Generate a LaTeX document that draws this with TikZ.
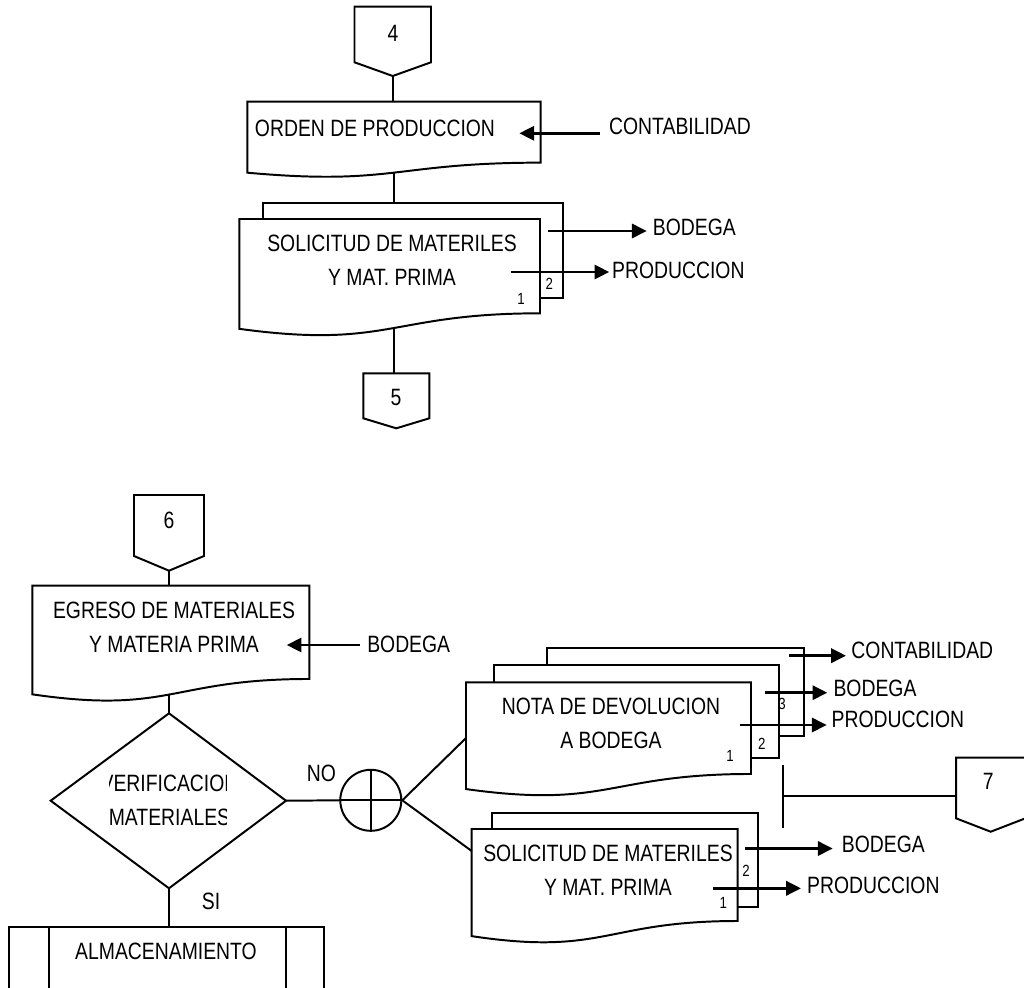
\documentclass[tikz,border=0pt]{standalone}
\usepackage{fontspec}
\setmainfont{Liberation Sans}[FakeStretch=0.82]
\usetikzlibrary{arrows.meta}

\newcommand\lblfont{\fontsize{16.8}{24.1}\selectfont}
\newcommand\numfont{\fontsize{11.5}{13}\selectfont}

% document symbol: name, left, top, right, height
\newcommand\docsheet[5]{%
  \draw[outline] (#2,#3) coordinate (#1-nw) -- (#4,#3) coordinate (#1-ne)
    -- (#4,{#3+0.802*#5}) coordinate (#1-se)
    .. controls ({(#2+#4)/2},{#3+0.802*#5}) and ({(#2+#4)/2},{#3+1.108*#5}) .. (#2,{#3+0.934*#5})
    coordinate (#1-sw) -- cycle;
  \coordinate (#1-b) at ({(#2+#4)/2},{#3+0.9333*#5});}

% visible part of a sheet lying behind another:
% name, left, top, right, bottom, right edge of the sheet in front, top of the sheet in front
\newcommand\backsheet[7]{%
  \draw[outline] (#2,#7) -- (#2,#3) coordinate (#1-nw) -- (#4,#3) coordinate (#1-ne)
    -- (#4,#5) coordinate (#1-se) -- (#6,#5);}

% off-page connector: name, left, top, right, shoulder, tip
\newcommand\offpage[6]{%
  \draw[outline] (#2,#3) coordinate (#1-nw) -- (#4,#3)
    -- (#4,#5) -- ({(#2+#4)/2},#6) coordinate (#1-tip) -- (#2,#5) -- cycle;
  \coordinate (#1-top) at ({(#2+#4)/2},#3);}

\tikzset{
  outline/.style={line width=1.4pt, line join=miter},
  flow/.style={line width=2.1pt, -{Triangle[length=10.5pt,width=10pt]}},
  txt/.style={font=\lblfont, inner sep=0pt, align=center},
  num/.style={font=\numfont, inner sep=0pt},
}

\begin{document}
\begin{tikzpicture}[x=0.025cm, y=-0.025cm]
\path[use as bounding box] (0,0) rectangle (1024,987);
\clip (0,0) rectangle (1024,987);

% ---------- upper sequence ----------
\offpage{op4}{354.5}{6.7}{431}{62.3}{76}
\node[txt] (n4) at (393,33.3) {4};

\docsheet{orden}{247.3}{101.7}{540.7}{76}
\node[txt] (t-orden) at (375,128) {ORDEN DE PRODUCCION};
\node[txt] (l-cont1) at (680,126.2) {CONTABILIDAD};
\coordinate (a1s) at (600,133.3);
\coordinate (a1t) at (519.3,133.3);
\draw[flow] (a1s) -- (a1t);

\backsheet{sol1b}{262.7}{203.3}{563.3}{298.3}{540}{219}
\docsheet{sol1}{239.3}{219}{540}{117.6}
\node[txt] (t-sol1) at (392,260.5) {SOLICITUD DE MATERILES\\Y MAT. PRIMA};
\node[num] (s1n2) at (549.3,283.5) {2};
\node[num] (s1n1) at (521,299) {1};
\node[txt] (l-bod1) at (694.3,227.7) {BODEGA};
\node[txt] (l-prod1) at (678.3,270) {PRODUCCION};
\coordinate (a2s) at (548.3,231);
\coordinate (a2t) at (646.7,231);
\coordinate (a3s) at (510.7,272);
\coordinate (a3t) at (609.3,272);
\draw[flow] (a2s) -- (a2t);
\draw[flow] (a3s) -- (a3t);

\offpage{op5}{363.3}{373.3}{429.3}{418.3}{428.3}
\node[txt] (n5) at (396,397.3) {5};

\draw[outline] (op4-tip) -- (op4-tip |- orden-nw);
\draw[outline] (orden-b) -- (orden-b |- sol1b-nw);
\draw[outline] (sol1-b -| orden-b) -- (orden-b |- op5-top);

% ---------- lower sequence ----------
\offpage{op6}{134}{495}{204}{556}{570.7}
\node[txt] (n6) at (169,520) {6};

\docsheet{egr}{32.3}{585.7}{309.3}{116.3}
\node[txt] (t-egr) at (174,627.3) {EGRESO DE MATERIALES\\Y MATERIA PRIMA};
\node[txt] (l-bod2) at (408.7,644) {BODEGA};
\coordinate (a4s) at (360,645);
\coordinate (a4t) at (286.7,645);
\draw[flow] (a4s) -- (a4t);

% decision
\draw[outline] (169,713.3) coordinate (dia-n) -- (286,800.7) coordinate (dia-e)
  -- (169,888.3) coordinate (dia-s) -- (50.7,800.7) coordinate (dia-w) -- cycle;
\begin{scope}
  \clip (109.3,760) rectangle (226,840);
  \node[txt] (t-dia) at (169.5,800) {VERIFICACION\\MATERIALES};
\end{scope}
\node[txt] (l-no) at (321.3,773) {NO};
\node[txt] (l-si) at (211,901.7) {SI};

\draw[outline] (op6-tip) -- (op6-tip |- egr-nw);
\draw[outline] (egr-b -| dia-n) -- (dia-n);

% storage (predefined process)
\draw[outline] (9,1000) -- (9,927.3) coordinate (alm-nw) -- (324.3,927.3) -- (324.3,1000);
\draw[outline] (49.3,927.3) -- (49.3,1000);
\draw[outline] (286,927.3) -- (286,1000);
\node[txt] (t-alm) at (166,951.7) {ALMACENAMIENTO};
\draw[outline] (dia-s) -- (dia-s |- alm-nw);

% connector circle
\node[circle, draw, line width=1.4pt, minimum size=1.525cm, inner sep=0pt] (circ) at (370.8,800.3) {};
\draw[outline] (circ.north) -- (circ.south);
\draw[outline] (circ.west) -- (circ.east);
\draw[outline] (dia-e) -- (circ.west);

% return note, three copies
\backsheet{nota3}{547.3}{648.3}{804.3}{736}{779.3}{665}
\backsheet{nota2}{494}{665}{779.3}{757.7}{751}{682.3}
\docsheet{nota}{466}{682.3}{751}{114.3}
\node[txt] (t-nota) at (611,723.5) {NOTA DE DEVOLUCION\\A BODEGA};
\node[num] (nn1) at (730,755.7) {1};
\node[num] (nn2) at (761.7,744) {2};
\node[num] (nn3) at (782,704) {3};
\node[txt] (l-cont2) at (922.3,650) {CONTABILIDAD};
\node[txt] (l-bod3) at (875,688.3) {BODEGA};
\node[txt] (l-prod3) at (897.9,719.3) {PRODUCCION};
\coordinate (a5s) at (789.3,655.7);
\coordinate (a5t) at (846,655.7);
\coordinate (a6s) at (765,692.7);
\coordinate (a6t) at (827.3,692.7);
\coordinate (a7s) at (740,725);
\coordinate (a7t) at (826.7,725);
\draw[flow] (a5s) -- (a5t);
\draw[flow] (a6s) -- (a6t);
\draw[flow] (a7s) -- (a7t);

% new request, two copies
\backsheet{sol2b}{492.3}{813.3}{757.7}{907.3}{737.7}{829}
\docsheet{sol2}{471.7}{829}{737.7}{114.7}
\node[txt] (t-sol2) at (608,870) {SOLICITUD DE MATERILES\\Y MAT. PRIMA};
\node[num] (s2n2) at (746,870.7) {2};
\node[num] (s2n1) at (723.3,903.3) {1};
\node[txt] (l-bod4) at (883.3,844) {BODEGA};
\node[txt] (l-prod4) at (873.3,885.7) {PRODUCCION};
\coordinate (a8s) at (745,848.5);
\coordinate (a8t) at (832.7,848.5);
\coordinate (a9s) at (713.3,888.3);
\coordinate (a9t) at (801,888.3);
\draw[flow] (a8s) -- (a8t);
\draw[flow] (a9s) -- (a9t);

\coordinate (nota-in) at (465.7,738.3);
\coordinate (sol2-in) at (471.7,851);
\draw[outline] (circ.east) -- (nota-in);
\draw[outline] (circ.east) -- (sol2-in);

% file bar and connector 7
\coordinate (bar-n) at (783.3,765);
\coordinate (bar-s) at (783.3,828.3);
\coordinate (bar-m) at (783.3,795.7);
\draw[outline] (bar-n) -- (bar-s);
\offpage{op7}{956}{757.7}{1025.4}{818.3}{831.7}
\node[txt] (n7) at (988.3,781.7) {7};
\draw[outline] (bar-m) -- (bar-m -| op7-nw);
\end{tikzpicture}
\end{document}
